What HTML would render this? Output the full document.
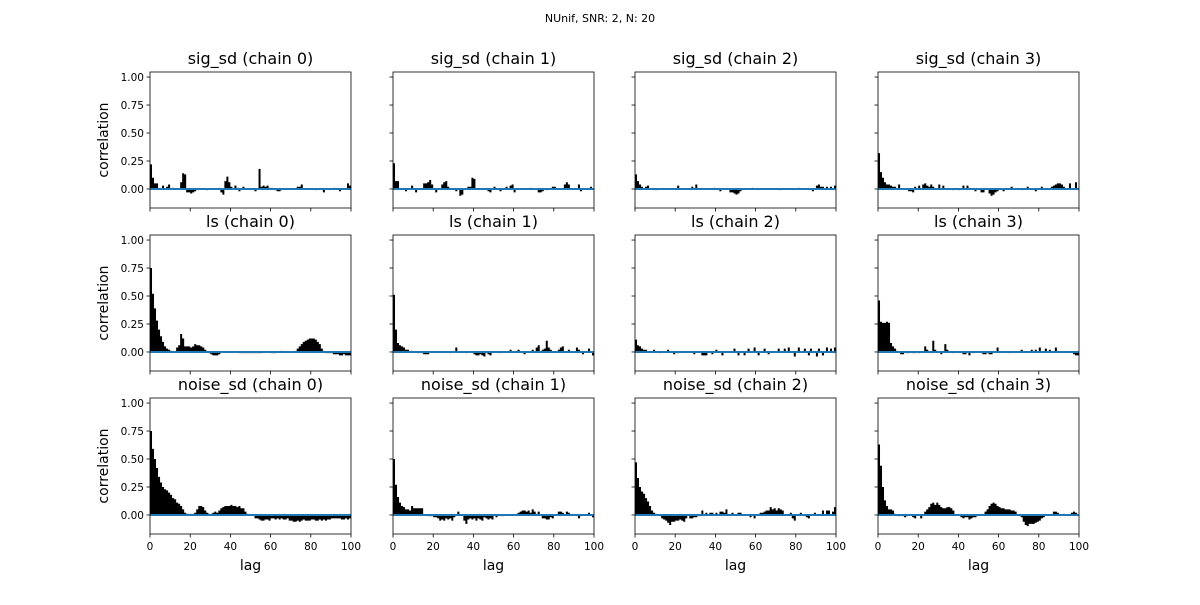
<!DOCTYPE html>
<html><head><meta charset="utf-8">
<style>
body{margin:0;background:#fff;}
svg text{font-family:"DejaVu Sans","Liberation Sans",sans-serif;fill:#000;}
</style></head>
<body>
<svg id="fig" width="1200" height="600" viewBox="0 0 1200 600" xmlns="http://www.w3.org/2000/svg">
<rect width="1200" height="600" fill="#fff"/>
<text x="600" y="22" font-size="11" text-anchor="middle">NUnif,  SNR: 2, N: 20</text>
</svg>
<script>
// values in hundredths of correlation, lag 0..99
const variables = ["sig_sd", "ls", "noise_sd"];
const chains = [0, 1, 2, 3];
const xTicks = [0, 20, 40, 60, 80, 100];
const yTicks = [0, 0.25, 0.5, 0.75, 1.0];
const yTickLabels = ["0.00", "0.25", "0.50", "0.75", "1.00"];

const sig0 = [22,10,5,5,0,0,3,0,2,4,0,1,0,0,0,6,14,13,-3,-3,-4,-3,-2,0,0,0,0,0,-1,0,0,0,0,0,1,-3,-5,7,11,6,2,0,3,1,-2,0,2,0,0,0,0,0,-2,0,18,2,3,2,3,1,1,0,-1,-2,-2,-1,0,0,0,0,0,0,0,2,2,4,0,0,0,0,0,0,-1,0,0,0,-3,0,0,0,0,1,0,0,-2,0,0,0,5,3];
const sig1 = [23,7,7,0,0,0,-2,0,0,3,0,-3,0,0,0,5,5,6,8,4,0,-3,0,0,4,6,7,2,0,0,0,-2,0,-6,-5,0,0,2,2,10,9,0,0,0,0,0,0,-2,-3,0,2,0,0,-2,0,0,2,0,3,4,-3,0,0,0,0,0,0,0,1,0,0,0,-3,-3,-2,0,-1,0,0,2,2,0,0,0,0,4,6,4,0,0,0,0,4,-2,0,0,0,0,2,0];
const sig2 = [13,7,4,2,0,2,3,0,0,0,-1,0,0,0,0,0,0,0,0,0,0,3,0,0,0,0,0,0,2,0,4,0,0,0,0,0,0,0,0,1,0,0,-2,0,0,0,0,-3,-3,-4,-5,-4,-2,0,0,0,0,0,1,0,0,0,0,0,0,0,0,0,0,0,0,0,-1,0,0,0,0,0,0,0,0,1,0,0,0,0,0,0,-2,0,3,4,2,2,0,2,0,2,0,3];
const sig3 = [32,15,10,6,4,4,3,2,2,0,4,0,0,0,0,-2,-2,-3,2,0,3,0,4,5,3,2,4,2,0,0,4,0,3,0,0,0,0,-1,0,0,-1,0,3,0,3,1,0,0,-2,0,0,-3,-3,0,0,-4,-6,-5,-3,-2,0,0,-2,0,0,0,2,0,0,0,0,-1,0,0,2,0,0,0,-2,0,0,2,0,0,0,0,2,3,4,5,5,4,2,0,0,5,0,0,6,0];

const ls0 = [75,52,39,28,20,14,9,5,3,2,1,0,0,4,6,16,12,5,5,5,4,5,7,6,6,5,4,2,0,-1,-2,-3,-3,-3,-2,0,0,0,0,0,0,0,0,0,-1,-1,-1,-1,-1,-1,-1,-1,-1,-1,-1,-1,0,0,0,0,-1,-1,-1,0,0,1,0,0,0,0,0,0,1,3,5,7,9,10,11,12,12,12,11,9,7,3,1,-1,-1,-1,-1,-2,-2,-2,-3,-3,-2,-3,-3,-3];
const ls1 = [51,20,8,6,5,4,2,2,0,1,0,0,-1,0,-1,-2,-2,-2,0,0,0,0,0,0,0,0,0,0,-1,0,0,4,0,0,0,0,-1,0,0,0,-2,-3,-3,-2,-3,-4,0,-2,-3,-1,0,0,0,-1,0,0,0,0,2,0,0,1,2,0,-1,-2,0,0,0,2,0,4,6,0,2,3,10,4,2,0,0,0,2,4,5,0,0,2,0,0,0,4,2,0,-2,0,0,3,0,-3];
const ls2 = [11,6,5,3,2,2,0,0,0,2,0,0,-1,0,0,0,2,0,0,-2,0,-1,0,0,0,0,0,0,0,-2,0,0,0,-3,-3,-3,0,0,-2,0,2,0,0,-3,0,0,0,0,0,3,0,-3,0,0,-3,0,3,0,0,4,0,-3,0,0,3,0,-2,0,0,0,0,3,0,0,3,0,4,0,0,-4,0,4,0,0,3,0,-3,3,0,0,-4,3,0,-3,0,4,0,3,0,4];
const ls3 = [46,27,26,26,27,26,8,5,3,1,0,-2,-2,0,-1,-1,0,-1,-1,0,-1,0,0,5,2,0,-1,10,2,0,0,-2,0,7,2,0,0,-1,0,0,0,0,-2,-2,0,-3,0,-1,0,0,0,-1,-2,-2,-1,-2,-2,0,0,4,0,0,0,0,0,-1,0,0,0,0,0,2,0,0,0,0,2,0,2,0,4,0,0,3,0,2,0,0,4,0,0,0,0,0,0,0,0,-2,-3,-3];

const noise0 = [75,59,50,42,34,29,25,23,22,20,18,15,14,11,10,8,5,2,1,1,1,1,2,5,8,8,7,4,2,1,1,2,3,2,4,6,7,8,8,8,9,8,8,7,8,6,6,3,1,0,0,0,-3,-3,-4,-5,-5,-4,-4,-5,-3,-3,-4,-3,-4,-3,-4,-4,-3,-5,-5,-6,-6,-5,-6,-5,-4,-5,-5,-5,-4,-4,-5,-5,-4,-5,-4,-5,-4,-4,-3,-3,-3,-3,-3,-4,-4,-3,-4,-3];
const noise1 = [50,27,16,11,8,7,5,5,4,8,6,6,6,6,6,0,0,-1,-1,-1,-2,-2,-3,-5,-4,-5,-3,-4,-3,-5,-2,0,3,0,0,-5,-8,-4,-3,-4,-3,-5,-3,-4,-5,-2,-3,-4,-3,-4,0,-2,0,0,-1,0,0,0,0,0,0,1,2,3,4,4,3,4,2,5,3,1,3,0,-3,-3,-4,-4,-2,-3,0,0,3,3,2,0,3,2,0,0,0,0,-3,-1,0,0,0,2,0,-2];
const noise2 = [47,33,25,21,19,15,12,8,4,2,1,0,-1,-3,-4,-5,-7,-9,-6,-6,-5,-5,-4,-5,-6,-3,0,-3,-3,-2,-2,-1,-1,4,0,2,0,2,2,0,2,0,3,3,2,5,0,0,2,0,0,2,2,0,0,0,0,-2,0,-3,0,0,2,2,3,4,4,7,5,6,4,6,5,4,0,0,0,2,-3,-5,0,0,2,0,0,-2,-3,0,0,2,0,0,0,4,0,4,4,0,3,7];
const noise3 = [63,44,25,13,8,5,5,4,1,0,-1,0,-1,-2,-1,0,0,-2,-3,0,0,-3,0,3,5,7,10,11,9,11,9,7,6,6,7,7,6,4,0,0,0,-2,-3,-2,-2,-4,-3,-2,-2,-1,0,0,0,3,5,8,10,11,10,8,7,6,6,5,5,5,4,4,3,0,0,-2,-6,-9,-10,-8,-8,-8,-7,-6,-5,-3,-2,0,0,0,0,3,3,2,0,0,1,0,0,0,2,3,2,0];

const series = [[sig0,sig1,sig2,sig3],[ls0,ls1,ls2,ls3],[noise0,noise1,noise2,noise3]];

const svg = document.getElementById('fig');
const NS = "http://www.w3.org/2000/svg";
const colLeft = [150, 393, 635, 878];
const rowTop = [72, 235, 398];
const W = 201, H = 136;
const yMin = -0.17, yMax = 1.045;
const xMax = 100;

function mk(tag, attrs){
  const e = document.createElementNS(NS, tag);
  for (const k in attrs) e.setAttribute(k, attrs[k]);
  svg.appendChild(e);
  return e;
}

for (let r = 0; r < 3; r++) {
  for (let c = 0; c < 4; c++) {
    const L = colLeft[c], T = rowTop[r];
    const xs = v => L + v / xMax * W;
    const ys = v => T + (yMax - v) / (yMax - yMin) * H;
    const data = series[r][c];
    let d = "";
    for (let i = 0; i < data.length; i++) {
      const v = data[i] / 100;
      const x0 = xs(i), x1 = xs(i + 1);
      const y0 = ys(0), y1 = ys(v);
      d += "M" + x0.toFixed(2) + "," + y0.toFixed(2) + "H" + x1.toFixed(2) + "V" + y1.toFixed(2) + "H" + x0.toFixed(2) + "Z";
    }
    const bars = mk('path', {d: d, fill: '#000'});
    
    
    const zl = mk('line', {x1: L, x2: L + W, y1: ys(0), y2: ys(0), stroke: '#1f77b4', 'stroke-width': 2});
    
    
    const fr = mk('rect', {x: L, y: T, width: W, height: H, fill: 'none', stroke: '#000', 'stroke-width': 0.8});
    
    
    const tt = mk('text', {x: L + W / 2, y: T - 8, 'font-size': 16, 'text-anchor': 'middle'});
    tt.textContent = variables[r] + " (chain " + chains[c] + ")";
    
    
    for (let k = 0; k < yTicks.length; k++) {
      const y = ys(yTicks[k]);
      const tk = mk('line', {x1: L - 3.5, x2: L, y1: y, y2: y, stroke: '#000', 'stroke-width': 0.8});
      
      
      if (c === 0) {
        const tl = mk('text', {x: L - 6, y: y + 4, 'font-size': 10.5, 'text-anchor': 'end'});
        tl.textContent = yTickLabels[k];
        
        
      }
    }
    for (let k = 0; k < xTicks.length; k++) {
      const x = xs(xTicks[k]);
      const tk = mk('line', {x1: x, x2: x, y1: T + H, y2: T + H + 3.5, stroke: '#000', 'stroke-width': 0.8});
      
      
      if (r === 2) {
        const tl = mk('text', {x: x, y: T + H + 16, 'font-size': 10.5, 'text-anchor': 'middle'});
        tl.textContent = xTicks[k];
        
        
      }
    }
    if (c === 0) {
      const yl = mk('text', {x: 0, y: 0, 'font-size': 14, 'text-anchor': 'middle', transform: 'translate(108,' + (T + H / 2) + ') rotate(-90)'});
      yl.textContent = "correlation";
      
      
    }
    if (r === 2) {
      const xl = mk('text', {x: L + W / 2, y: 570, 'font-size': 14, 'text-anchor': 'middle'});
      xl.textContent = "lag";
      
      
    }
  }
}
</script>
</body></html>
